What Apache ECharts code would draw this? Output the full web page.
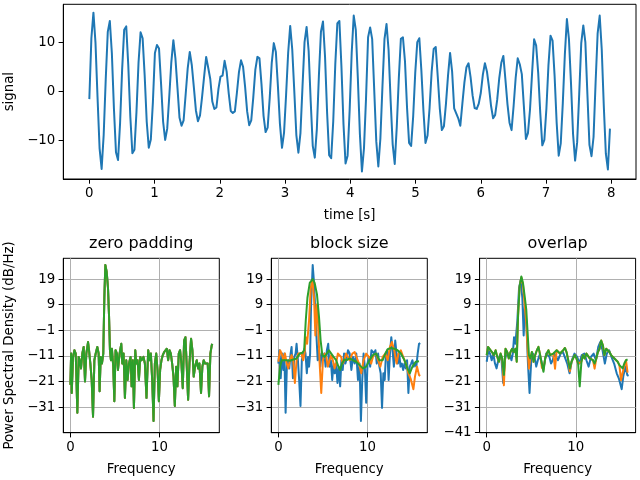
<!DOCTYPE html>
<html><head><meta charset="utf-8">
<script src="https://cdn.jsdelivr.net/npm/echarts@6/dist/echarts.min.js"></script>
<style>html,body{margin:0;padding:0;background:#fff}#c{width:640px;height:480px}</style>
</head><body><div id="c"></div><script>
// ---- data ----
const signalStep = Math.PI / 100; // seconds between samples
const signalValues = [
-1.6,10.8,16.0,9.9,-1.2,-11.6,-15.8,-8.9,
2.4,12.1,14.3,7.7,-3.5,-12.4,-14.0,-6.5,
4.4,12.5,13.2,5.3,-5.2,-12.6,-11.9,-4.2,
5.8,12.0,10.8,3.2,-6.2,-11.5,-9.8,-2.3,
7.8,9.4,8.7,1.5,-6.2,-9.9,-7.6,-1.0,
5.9,10.4,6.7,0.7,-5.4,-7.0,-5.9,-0.6,
4.7,8.0,5.3,0.8,-3.9,-6.1,-4.9,-1.2,
3.0,7.0,4.8,2.5,-2.1,-3.6,-3.3,0.5,
3.0,3.2,6.2,4.0,-0.4,-4.0,-4.4,-4.1,
-0.3,3.9,6.3,5.0,0.9,-4.1,-6.9,-5.9,
-1.2,4.4,7.0,6.7,1.4,-5.0,-8.3,-7.4,
-1.4,5.8,9.8,8.0,1.1,-6.7,-11.5,-8.4,
-0.7,7.8,13.3,8.5,0.0,-8.9,-12.5,-8.5,
0.9,10.0,13.1,8.2,-2.0,-11.1,-13.5,-7.7,
3.1,12.1,14.2,7.0,-4.3,-13.0,-13.6,-6.1,
5.5,13.8,14.3,5.0,-6.7,-14.7,-13.1,-3.9,
7.8,15.4,12.5,2.7,-8.7,-16.3,-11.6,-1.4,
11.0,13.0,10.6,0.2,-10.2,-15.3,-9.6,0.9,
10.6,13.7,8.4,-1.9,-10.8,-14.8,-7.2,2.7,
10.7,11.0,6.1,-3.3,-10.5,-11.1,-5.1,3.7,
10.0,10.8,4.2,-3.9,-10.5,-9.0,-3.4,3.9,
8.6,9.0,2.9,-3.6,-7.9,-7.1,-2.5,3.2,
7.8,4.0,-3.5,-4.5,-5.5,-7.0,-2.5,1.8,
4.9,5.7,2.9,-0.9,-3.4,-3.6,-2.5,-0.3,
3.4,5.7,4.0,0.8,-3.0,-5.5,-4.8,-1.7,
2.7,5.8,7.2,2.4,-2.6,-6.4,-7.9,-3.0,
2.7,6.7,5.5,3.5,-3.0,-9.7,-8.5,-3.7,
3.6,10.6,9.3,3.7,-4.4,-11.0,-9.9,-3.5,
5.3,11.3,10.3,3.1,-6.4,-13.1,-10.6,-2.4,
7.5,14.7,10.6,1.6,-8.7,-14.1,-10.4,-0.6,
9.8,13.4,10.0,-0.6,-10.9,-13.2,-9.3,1.8,
11.8,15.4,8.5,-3.0,-12.7,-15.9,-7.6
];

// zero padding (NFFT=len, pad_to 1x/2x/4x): the curves coincide
const zpFreq = [0,0.08,0.15,0.30,0.45,0.60,0.78,0.93,1.04,1.19,
1.34,1.49,1.64,1.79,1.98,2.09,2.24,2.39,2.54,2.69,
2.84,3.02,3.17,3.28,3.40,3.54,3.69,3.81,3.92,4.07,
4.22,4.33,4.44,4.55,4.66,4.81,4.93,5.07,5.22,5.34,
5.52,5.71,5.82,5.97,6.12,6.27,6.42,6.57,6.75,6.87,
7.01,7.13,7.28,7.39,7.54,7.69,7.84,7.99,8.2,8.36,
8.54,8.73,8.88,9.03,9.18,9.33,9.48,9.63,9.78,9.93,
10.07,10.22,10.37,10.52,10.67,10.82,10.97,11.12,11.27,11.42,
11.57,11.72,11.87,12.01,12.16,12.31,12.46,12.61,12.76,12.91,
13.06,13.21,13.36,13.54,13.69,13.84,13.99,14.18,14.33,14.48,
14.66,14.81,14.96,15.11,15.26,15.41,15.56,15.71,15.86,15.92];
const zpPsd = [-22.3,-10.1,-25.5,-11.4,-8.8,-10.1,-33.2,-11.4,-12.7,-15.9,
-10.1,-7.5,-21.0,-10.1,-5.6,-8.8,-14.0,-20.4,-34.8,-12.7,
-10.1,-7.5,-10.1,-24.8,-11.4,-14.0,-10.1,11.7,24.5,21.9,
15.5,5.3,-8.8,-12.7,-8.2,-15.2,-28.7,-8.8,-10.1,-16.5,
-10.1,-6.3,-14.0,-10.1,-27.4,-12.7,-20.4,-14.0,-11.4,-22.9,
-12.7,-31.3,-8.8,-14.0,-12.7,-20.4,-11.4,-12.7,-11.4,-14.0,
-27.4,-8.8,-12.7,-10.1,-20.4,-36.4,-14.0,-10.1,-16.5,-28.7,
-16.5,-12.7,-10.7,-9.5,-8.8,-8.2,-12.7,-8.8,-10.1,-14.0,
-19.1,-30.6,-15.2,-22.9,-10.1,-8.8,-14.0,-23.6,-5.0,-3.7,
-15.2,-28.1,-14.0,-4.3,-8.8,-19.1,-15.2,-12.7,-15.9,-14.0,
-25.5,-15.2,-12.7,-14.0,-13.3,-14.0,-26.8,-10.1,-6.9,-6.3];

// block size: NFFT = len
const bsBlueFreq = [0,0.11,0.26,0.41,0.56,0.67,0.81,0.96,1.11,1.22,
1.37,1.48,1.63,1.78,1.93,2.04,2.19,2.33,2.48,2.63,
2.78,2.93,3.04,3.19,3.33,3.44,3.56,3.67,3.85,3.96,
4.11,4.26,4.41,4.56,4.70,4.85,5.0,5.15,5.30,5.44,
5.59,5.74,5.89,6.04,6.19,6.33,6.48,6.63,6.78,6.93,
7.07,7.22,7.37,7.52,7.67,7.81,8.0,8.19,8.37,8.56,
8.74,8.93,9.11,9.26,9.41,9.56,9.70,9.85,10.0,10.15,
10.30,10.44,10.59,10.74,10.89,11.04,11.19,11.33,11.48,11.63,
11.78,11.93,12.07,12.22,12.37,12.52,12.67,12.81,12.96,13.11,
13.26,13.41,13.56,13.70,13.85,14.0,14.15,14.30,14.44,14.59,
14.74,14.89,15.04,15.19,15.33,15.48,15.63,15.78,15.92];
const bsBlue = [-14.0,-8.8,-19.7,-10.1,-16.5,-10.1,-33.2,-14.0,-12.7,-15.9,
-10.1,-7.5,-19.7,-11.4,-10.1,-6.3,-12.7,-20.4,-30.6,-12.7,
-10.1,-8.2,-10.1,-17.8,-11.4,-15.2,-10.1,9.1,24.5,19.4,
9.1,-2.4,-12.7,-8.8,-15.2,-10.1,-12.7,-10.1,-15.2,-8.8,
-6.3,-15.2,-12.7,-20.4,-14.0,-17.8,-14.0,-21.6,-15.2,-22.9,
-12.7,-16.5,-10.1,-14.0,-12.0,-8.8,-10.1,-16.5,-11.4,-14.0,
-10.1,-20.4,-14.0,-36.4,-20.4,-10.1,-15.2,-29.3,-14.0,-11.4,
-15.2,-8.8,-8.2,-10.1,-8.8,-14.0,-10.1,-15.2,-17.8,-31.3,
-17.8,-20.4,-10.1,-8.8,-20.4,-10.1,-3.7,-8.8,-15.2,-5.0,
-10.1,-14.0,-10.1,-15.2,-14.0,-16.5,-14.0,-15.9,-12.7,-25.5,
-15.2,-14.0,-12.7,-15.2,-14.0,-15.2,-10.1,-6.3,-6.0];
// NFFT = len/2 (also the noverlap=0 curve of the overlap panel)
const halfFreq = [0,0.19,0.37,0.56,0.74,0.93,1.11,1.30,1.48,1.67,
1.85,2.04,2.22,2.41,2.59,2.78,2.93,3.07,3.22,3.44,
3.63,3.81,4.0,4.15,4.30,4.44,4.63,4.81,5.0,5.19,
5.37,5.56,5.74,5.93,6.11,6.30,6.48,6.67,6.85,7.04,
7.22,7.41,7.59,7.78,8.0,8.30,8.56,8.74,9.04,9.30,
9.56,9.85,10.15,10.41,10.67,10.96,11.19,11.44,11.70,12.0,
12.26,12.52,12.74,13.0,13.26,13.48,13.74,14.0,14.30,14.59,
14.85,15.15,15.33,15.56,15.78,15.92];
const halfPsd = [-13.3,-8.8,-10.1,-12.7,-10.1,-14.0,-15.9,-12.7,-10.7,-12.7,
-21.6,-12.7,-10.1,-9.5,-10.1,-12.7,-10.1,-3.7,-6.3,2.7,
15.5,18.4,11.7,-3.0,9.1,2.7,-14.0,-25.5,-12.7,-10.1,
-11.4,-15.2,-12.7,-10.7,-12.7,-15.9,-14.0,-10.1,-9.5,-11.4,
-14.0,-12.7,-10.1,-9.5,-12.7,-10.1,-9.5,-10.1,-14.0,-17.8,
-12.7,-10.1,-11.4,-14.0,-10.7,-10.1,-12.7,-15.2,-11.4,-10.1,
-12.7,-7.5,-5.6,-8.8,-14.0,-10.1,-8.8,-11.4,-14.0,-17.8,
-20.0,-24.0,-19.0,-15.2,-18.5,-18.8];
// NFFT = len/4
const quarterFreq = [0,0.19,0.37,0.56,0.93,1.30,1.67,2.04,2.41,2.67,
2.89,3.07,3.26,3.52,3.85,4.07,4.33,4.56,4.74,4.93,
5.19,5.44,5.67,5.93,6.19,6.48,6.74,6.93,7.15,7.41,
7.67,8.0,8.37,8.74,9.11,9.48,9.85,10.22,10.59,10.96,
11.33,11.70,12.0,12.26,12.63,13.0,13.37,13.74,14.11,14.48,
14.74,15.04,15.41,15.78];
const quarterPsd = [-22.3,-15.2,-12.7,-12.4,-12.7,-12.9,-12.4,-12.0,-10.1,-9.8,
-8.8,2.7,11.7,17.5,19.0,17.5,13.0,4.0,-5.0,-10.7,
-11.4,-10.1,-8.8,-10.1,-11.4,-12.7,-15.2,-16.5,-14.0,-12.4,
-12.7,-12.0,-12.7,-13.3,-14.6,-15.9,-15.2,-12.7,-10.7,-10.1,
-12.7,-12.7,-10.1,-8.4,-7.9,-8.2,-8.8,-10.1,-12.4,-15.9,
-17.8,-15.2,-13.3,-13.1];

// overlap: noverlap small (orange) and larger (green)
const ovFreq = [0,0.15,0.37,0.59,0.81,1.0,1.19,1.37,1.56,1.74,
1.93,2.11,2.30,2.48,2.67,2.85,3.04,3.22,3.37,3.52,
3.70,3.89,4.07,4.26,4.44,4.59,4.74,4.89,5.07,5.26,
5.44,5.63,5.81,6.0,6.19,6.37,6.56,6.74,6.93,7.11,
7.30,7.48,7.67,7.85,8.04,8.22,8.41,8.59,8.78,8.96,
9.15,9.33,9.52,9.70,9.89,10.07,10.26,10.44,10.63,10.81,
11.0,11.19,11.37,11.56,11.74,11.93,12.11,12.30,12.48,12.67,
12.85,13.04,13.22,13.41,13.59,13.78,13.96,14.15,14.33,14.52,
14.70,14.89,15.07,15.26,15.44,15.63,15.81];
const ovOrange = [-10.7,-7.5,-8.2,-9.5,-10.7,-8.8,-11.4,-13.3,-10.1,-12.0,
-22.5,-8.2,-9.5,-12.0,-9.5,-8.2,-9.5,-8.2,-13.3,4.6,
16.2,19.6,17.0,9.0,2.0,-8.0,-16.0,-12.0,-9.5,-13.3,
-10.7,-8.8,-7.5,-10.7,-15.5,-16.5,-12.0,-10.1,-8.8,-10.7,
-11.4,-10.1,-16.0,-8.8,-8.2,-10.1,-10.7,-8.8,-7.9,-9.5,
-12.7,-17.0,-13.3,-12.0,-10.7,-12.0,-14.0,-14.0,-13.3,-10.7,
-12.0,-10.1,-10.7,-12.0,-11.4,-12.7,-16.0,-12.0,-9.5,-8.2,
-5.0,-6.9,-10.7,-8.2,-8.8,-9.5,-10.7,-11.4,-12.0,-12.0,
-13.3,-14.6,-20.5,-17.5,-15.0,-12.7,-17.5];
const ovGreen = [-10.7,-7.5,-8.2,-9.5,-10.7,-8.8,-11.4,-13.3,-10.1,-12.0,
-18.4,-8.2,-9.5,-12.0,-9.5,-8.2,-9.5,-8.2,-13.3,4.6,
16.2,20.0,17.5,12.3,7.2,-1.8,-10.7,-12.0,-9.5,-13.3,
-10.7,-8.8,-7.5,-10.7,-14.0,-17.2,-12.0,-10.1,-8.8,-10.7,
-11.4,-10.1,-10.7,-8.8,-8.2,-10.1,-10.7,-8.8,-7.9,-9.5,
-12.7,-15.9,-13.3,-12.0,-10.7,-12.0,-14.0,-22.9,-13.3,-10.7,
-12.0,-10.1,-10.7,-12.0,-11.4,-12.7,-14.0,-12.0,-9.5,-8.2,
-5.0,-6.9,-10.7,-8.2,-8.8,-9.5,-10.7,-11.4,-12.0,-12.0,
-13.3,-14.6,-15.2,-15.9,-14.0,-12.7,-12.4];

// ticks
const signalXTicks = [0,1,2,3,4,5,6,7,8];
const signalYTicks = [-10,0,10];
const psdXTicks = [0,10];
const psdYTicks = [-31,-21,-11,-1,9,19];
const overlapYTicks = [-41,-31,-21,-11,-1,9,19];
const titles = ['zero padding','block size','overlap'];

// ---- chart ----
const FONT = 'DejaVu Sans';
const BLUE = '#1f77b4', ORANGE = '#ff7f0e', GREEN = '#2ca02c';
const fmt = v => (v < 0 ? '\u2212' + Math.abs(v) : String(v));
const pairs = (xs, ys) => ys.map((y, i) => [xs[i], y]);
const nameStyle = {fontFamily: FONT, fontSize: 13.33, color: '#000'};

function axis(gridIndex, min, max, ticks, grid, extra) {
  return Object.assign({
    type: 'value', gridIndex, min, max,
    axisLine: {show: true, onZero: false, lineStyle: {color: '#000', width: 1}},
    axisTick: {show: true, customValues: ticks, length: 4.7, lineStyle: {color: '#000', width: 1}},
    axisLabel: {show: true, customValues: ticks, formatter: fmt, color: '#000',
      fontFamily: FONT, fontSize: 13.33, margin: 8},
    splitLine: {show: grid, lineStyle: {color: '#b0b0b0', width: 1}},
    nameTextStyle: nameStyle
  }, extra || {});
}

const psdTop = 258.3, psdH = 174.4, psdW = 156;
const psdLeft = [63.3, 271.3, 479.6];
const fMin = -0.796, fMax = 16.71, dbMin = -41, dbMax = 27.1;

const grids = [{left: 63.3, top: 4.3, width: 572.7, height: 174.7}]
  .concat(psdLeft.map(l => ({left: l, top: psdTop, width: psdW, height: psdH})))
  .map(g => Object.assign(g, {show: true, borderColor: '#000', borderWidth: 1,
    backgroundColor: 'transparent', containLabel: false, outerBoundsMode: 'none'}));

const xAxes = [axis(0, -0.399, 8.379, signalXTicks, false,
  {name: 'time [s]', nameLocation: 'middle', nameGap: 30})];
const yAxes = [axis(0, -17.85, 17.7, signalYTicks, false,
  {name: 'signal', nameLocation: 'middle', nameGap: 47})];
for (let i = 0; i < 3; i++) {
  xAxes.push(axis(i + 1, fMin, fMax, psdXTicks, true,
    {name: 'Frequency', nameLocation: 'middle', nameGap: 30}));
  yAxes.push(axis(i + 1, dbMin, dbMax, i === 2 ? overlapYTicks : psdYTicks, true,
    i === 0 ? {name: 'Power Spectral Density (dB/Hz)', nameLocation: 'middle', nameGap: 47} : {}));
}

function line(idx, data, color) {
  return {type: 'line', xAxisIndex: idx, yAxisIndex: idx, data, showSymbol: false, symbol: 'none',
    clip: true, silent: true, lineStyle: {color, width: 2, join: 'round'}, itemStyle: {color}};
}

const series = [
  line(0, signalValues.map((v, i) => [i * signalStep, v]), BLUE),
  line(1, pairs(zpFreq, zpPsd), BLUE),
  line(1, pairs(zpFreq, zpPsd), ORANGE),
  line(1, pairs(zpFreq, zpPsd), GREEN),
  line(2, pairs(bsBlueFreq, bsBlue), BLUE),
  line(2, pairs(halfFreq, halfPsd), ORANGE),
  line(2, pairs(quarterFreq, quarterPsd), GREEN),
  line(3, pairs(halfFreq, halfPsd), BLUE),
  line(3, pairs(ovFreq, ovOrange), ORANGE),
  line(3, pairs(ovFreq, ovGreen), GREEN)
];

const title = titles.map((t, i) => ({
  text: t, left: psdLeft[i] + psdW / 2, top: 236, textAlign: 'center', padding: 0,
  textStyle: {fontFamily: FONT, fontSize: 16, fontWeight: 'normal', color: '#000'}
}));

const chart = echarts.init(document.getElementById('c'), null, {renderer: 'canvas'});
chart.setOption({animation: false, backgroundColor: '#fff', title, grid: grids, xAxis: xAxes, yAxis: yAxes, series});
</script></body></html>
